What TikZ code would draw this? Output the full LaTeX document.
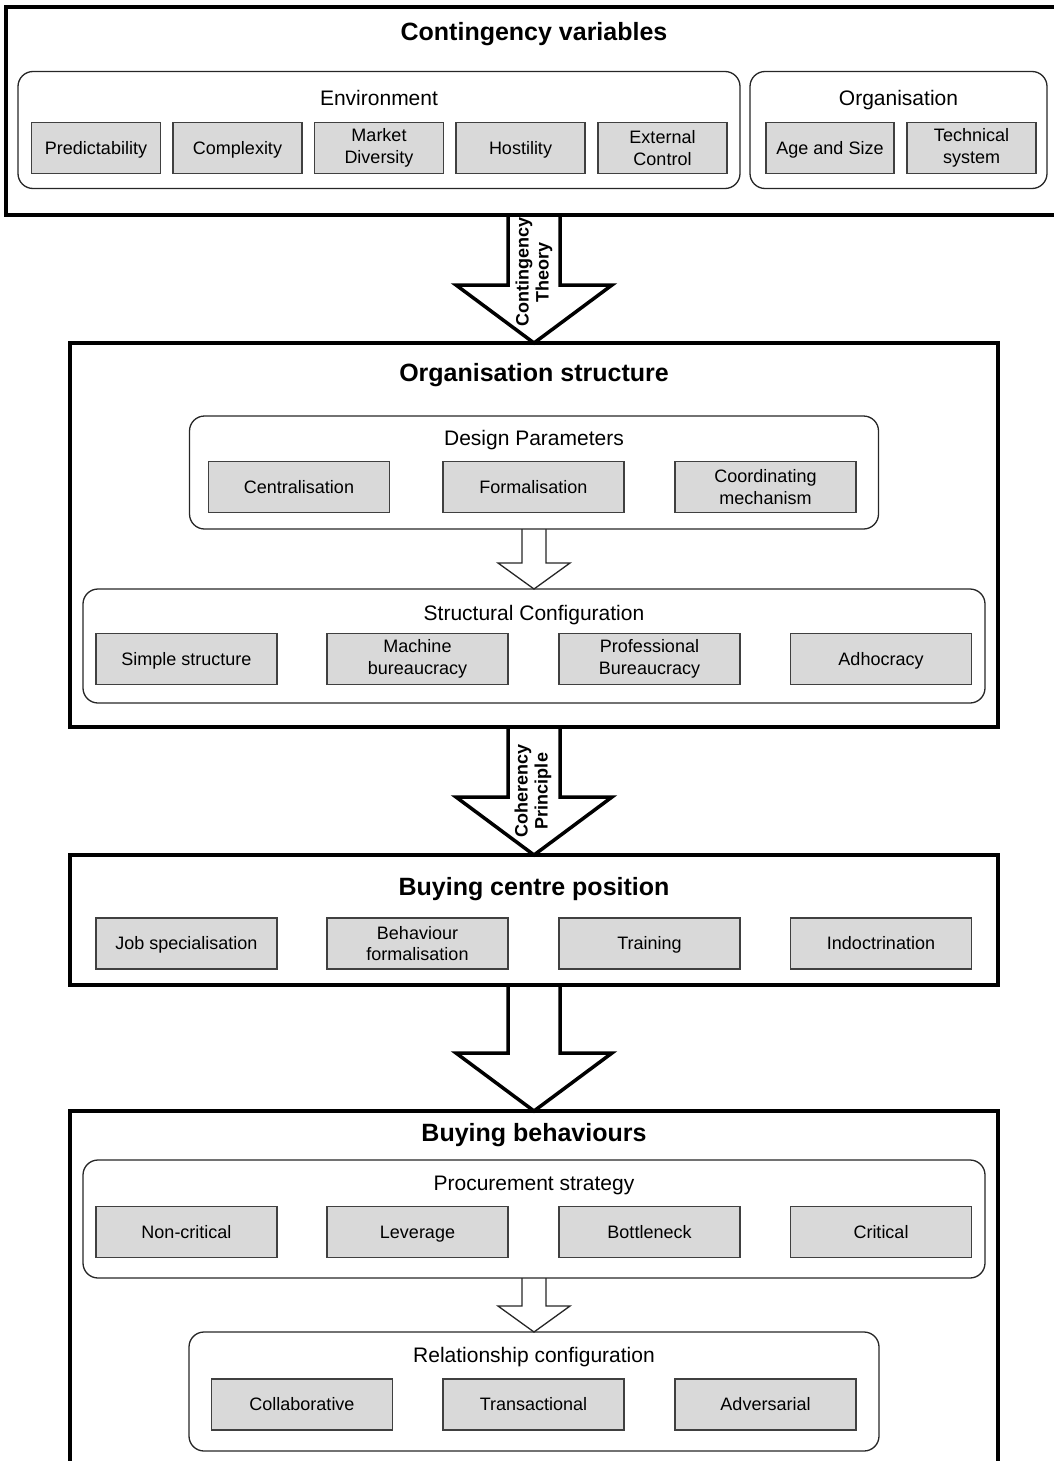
\documentclass[tikz,border=0pt]{standalone}
\usepackage{fontspec}
\setmainfont{Liberation Sans}
\usetikzlibrary{calc}
\definecolor{itemgray}{HTML}{D9D9D9}
\pgfdeclarelayer{bg}
\pgfsetlayers{bg,main}
\newcommand{\drawBigArrow}[2]{%
  \draw[bigarrow] ($(#1.south)+(-26,0)$) -- ($(#2.north)+(-26,-58)$) -- ($(#2.north)+(-78,-58)$) -- (#2.north) -- ($(#2.north)+(78,-58)$) -- ($(#2.north)+(26,-58)$) -- ($(#1.south)+(26,0)$);}
\newcommand{\drawSmallArrow}[2]{%
  \draw[smallarrow] ($(#1.south)+(-12,0)$) -- ($(#2.north)+(-12,-26)$) -- ($(#2.north)+(-36,-26)$) -- (#2.north) -- ($(#2.north)+(36,-26)$) -- ($(#2.north)+(12,-26)$) -- ($(#1.south)+(12,0)$);}
\begin{document}
\begin{tikzpicture}[x=1pt,y=-1pt,
  outerbox/.style={draw, line width=3.5pt, inner sep=0pt, outer sep=0pt},
  groupbox/.style={draw=black!85, line width=1.3pt, rounded corners=15pt, inner sep=0pt, outer sep=0pt},
  itembox/.style={draw=black!75, fill=itemgray, line width=1.2pt, minimum height=51pt, inner sep=0pt, align=center, font=\fontsize{18}{21.5}\selectfont},
  oneline/.style={itembox, text height=12.9pt, text depth=0pt},
  titletext/.style={font=\fontsize{25}{30}\selectfont\bfseries, inner sep=0pt, text height=17.9pt, text depth=0pt},
  grouplabel/.style={font=\fontsize{21}{25}\selectfont, inner sep=0pt, text height=15pt, text depth=0pt},
  bigarrow/.style={draw, fill=white, line width=3.5pt, line join=miter},
  smallarrow/.style={draw=black!85, fill=white, line width=1.3pt, line join=miter},
  arrowlabel/.style={rotate=90, align=center, font=\fontsize{18}{20}\selectfont\bfseries, inner sep=0pt}]
\useasboundingbox (0,0) rectangle (1054,1461);

% ---------- Contingency variables ----------
\node[outerbox, minimum width=1056pt, minimum height=208pt] (cv) at (534,111) {};
\node[titletext] (cvt) at (534,32) {Contingency variables};
\node[groupbox, minimum width=722pt, minimum height=117pt] (env) at (379,130) {};
\node[grouplabel] (envl) at (379,98) {Environment};
\node[groupbox, minimum width=297pt, minimum height=117pt] (org) at (898.5,130) {};
\node[grouplabel] (orgl) at (898.5,98) {Organisation};
\node[oneline, minimum width=129pt] (e1) at (96,148) {Predictability};
\node[oneline, minimum width=129pt] (e2) at (237.5,148) {Complexity};
\node[itembox, minimum width=129pt] (e3) at (379,148) {Market\\Diversity};
\node[oneline, minimum width=129pt] (e4) at (520.5,148) {Hostility};
\node[itembox, minimum width=129pt] (e5) at (662.5,148) {External\\Control};
\node[oneline, minimum width=128pt] (o1) at (830,148) {Age and Size};
\node[itembox, minimum width=129pt] (o2) at (971.5,148) {Technical\\system};

% ---------- Organisation structure ----------
\node[outerbox, minimum width=928pt, minimum height=384pt] (os) at (534,535) {};
\node[titletext] (ost) at (534,373) {Organisation structure};
\node[groupbox, minimum width=689pt, minimum height=113pt] (dp) at (534,472.5) {};
\node[grouplabel] (dpl) at (534,438) {Design Parameters};
\node[oneline, minimum width=181pt] (d1) at (299,487) {Centralisation};
\node[oneline, minimum width=181pt] (d2) at (533.5,487) {Formalisation};
\node[itembox, minimum width=181pt] (d3) at (765.5,487) {Coordinating\\mechanism};
\node[groupbox, minimum width=902pt, minimum height=114pt] (sc) at (534,646) {};
\node[grouplabel] (scl) at (534,612.5) {Structural Configuration};
\node[oneline, minimum width=181pt] (s1) at (186.5,659) {Simple structure};
\node[itembox, minimum width=181pt] (s2) at (417.5,659) {Machine\\bureaucracy};
\node[itembox, minimum width=181pt] (s3) at (649.5,659) {Professional\\Bureaucracy};
\node[oneline, minimum width=181pt] (s4) at (881,659) {Adhocracy};

% ---------- Buying centre position ----------
\node[outerbox, minimum width=928pt, minimum height=130pt] (bc) at (534,920) {};
\node[titletext] (bct) at (534,887) {Buying centre position};
\node[oneline, minimum width=181pt] (b1) at (186.5,943.5) {Job specialisation};
\node[itembox, minimum width=181pt] (b2) at (417.5,943.5) {Behaviour\\formalisation};
\node[oneline, minimum width=181pt] (b3) at (649.5,943.5) {Training};
\node[oneline, minimum width=181pt] (b4) at (881,943.5) {Indoctrination};

% ---------- Buying behaviours ----------
\node[outerbox, minimum width=928pt, minimum height=364pt] (bb) at (534,1293) {};
\node[titletext] (bbt) at (534,1133) {Buying behaviours};
\node[groupbox, minimum width=902pt, minimum height=118pt] (ps) at (534,1219) {};
\node[grouplabel] (psl) at (534,1182.5) {Procurement strategy};
\node[oneline, minimum width=181pt] (p1) at (186.5,1232) {Non-critical};
\node[oneline, minimum width=181pt] (p2) at (417.5,1232) {Leverage};
\node[oneline, minimum width=181pt] (p3) at (649.5,1232) {Bottleneck};
\node[oneline, minimum width=181pt] (p4) at (881,1232) {Critical};
\node[groupbox, minimum width=690pt, minimum height=119pt] (rc) at (534,1391.5) {};
\node[grouplabel] (rcl) at (534,1355) {Relationship configuration};
\node[oneline, minimum width=181pt] (r1) at (302,1404.5) {Collaborative};
\node[oneline, minimum width=181pt] (r2) at (533.5,1404.5) {Transactional};
\node[oneline, minimum width=181pt] (r3) at (765.5,1404.5) {Adversarial};

% ---------- arrows ----------
\begin{pgfonlayer}{bg}
  \drawBigArrow{cv}{os}
  \drawBigArrow{os}{bc}
  \drawBigArrow{bc}{bb}
  \drawSmallArrow{dp}{sc}
  \drawSmallArrow{ps}{rc}
\end{pgfonlayer}
\node[arrowlabel] (al1) at ($(cv.south)+(0,57)$) {Contingency\\Theory};
\node[arrowlabel] (al2) at ($(os.south)+(-1,64)$) {Coherency\\Principle};
\end{tikzpicture}
\end{document}
